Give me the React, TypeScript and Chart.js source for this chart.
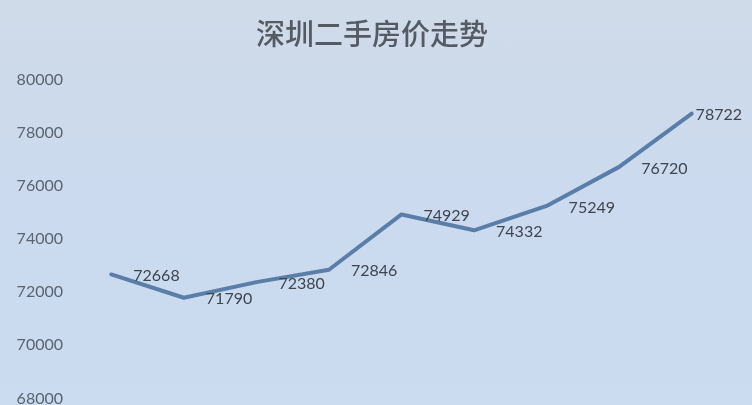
import React, { useEffect, useRef } from "react";
import { Chart, registerables } from "chart.js";

Chart.register(...registerables);

const categories = ["1月", "2月", "3月", "4月", "5月", "6月", "7月", "8月", "9月"];
const prices = [72668, 71790, 72380, 72846, 74929, 74332, 75249, 76720, 78722];
const yTicks = [68000, 70000, 72000, 74000, 76000, 78000, 80000];
const titleText = "深圳二手房价走势";

const labelPlugin = {
  id: "pointLabels",
  afterDatasetsDraw(chart: any) {
    const ctx = chart.ctx;
    const meta = chart.getDatasetMeta(0);
    const data = chart.data.datasets[0].data as number[];
    ctx.save();
    ctx.font = "16px Lato";
    ctx.fillStyle = "#3e4450";
    ctx.textAlign = "left";
    ctx.textBaseline = "middle";
    meta.data.forEach((pt: any, i: number) => {
      const txt = String(data[i]);
      const w = ctx.measureText(txt).width;
      let x = pt.x + 22;
      if (x + w > 742) x = 742 - w;
      ctx.fillText(txt, x, pt.y + 1.5);
    });
    ctx.restore();
  },
};

export default function App() {
  const ref = useRef<HTMLCanvasElement | null>(null);
  useEffect(() => {
    document.body.style.overflow = "hidden";
    const chart = new Chart(ref.current as HTMLCanvasElement, {
      type: "line",
      data: {
        labels: categories,
        datasets: [
          {
            data: prices,
            borderColor: "#5a7ea8",
            borderWidth: 4,
            pointRadius: 0,
            tension: 0,
            borderJoinStyle: "round",
            borderCapStyle: "round",
            fill: false,
          },
        ],
      },
      options: {
        responsive: false,
        animation: false,
        layout: { padding: { left: 16, right: 24, top: 0, bottom: 21 } },
        plugins: {
          legend: { display: false },
          tooltip: { enabled: false },
          title: {
            display: true,
            text: titleText,
            color: "#555b64",
            font: { family: "'Noto Sans CJK SC'", size: 29, weight: "500" },
            padding: { top: 17, bottom: 28 },
          },
        },
        scales: {
          x: {
            type: "category",
            offset: true,
            display: false,
          },
          y: {
            min: 68000,
            max: 80000,
            afterBuildTicks: (axis: any) => {
              axis.ticks = yTicks.map((v) => ({ value: v }));
            },
            afterFit: (axis: any) => {
              axis.width = 59;
            },
            grid: { display: false, drawTicks: false },
            border: { display: false },
            ticks: {
              padding: 12,
              color: "#5a6470",
              font: { family: "Lato", size: 16 },
              callback: (v: any) => String(v),
            },
          },
        },
      },
      plugins: [labelPlugin],
    } as any);
    return () => chart.destroy();
  }, []);
  return (
    <div
      style={{
        position: "fixed",
        left: 0,
        top: 0,
        width: 752,
        height: 405,
        overflow: "hidden",
        background: "linear-gradient(180deg, #d0dbe9 0%, #cbdaee 45%, #cbdcf0 100%)",
      }}
    >
      <canvas ref={ref} width={752} height={420} style={{ display: "block", width: 752, height: 420 }} />
    </div>
  );
}
